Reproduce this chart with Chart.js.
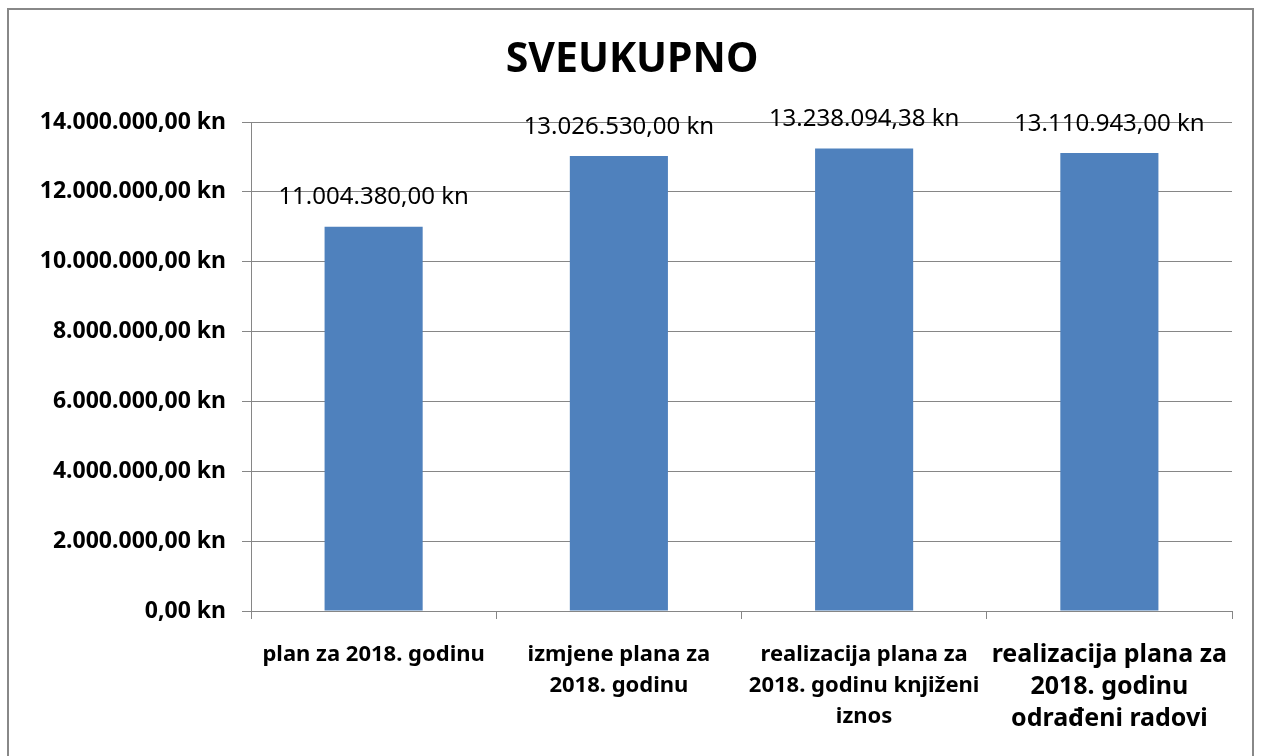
<!DOCTYPE html>
<html>
<head>
<meta charset="utf-8">
<script src="https://cdn.jsdelivr.net/npm/chart.js@4.4.0/dist/chart.umd.min.js"></script>
<style>
  html, body { margin: 0; padding: 0; background: #fff; }
  #wrap { position: relative; width: 1264px; height: 756px; overflow: hidden; }
  #frame {
    position: absolute; left: 7px; top: 8px; width: 1243px; height: 800px;
    border: 2px solid #888888; pointer-events: none;
  }
  canvas { position: absolute; left: 0; top: 0; }
</style>
</head>
<body>
<div id="wrap">
  <canvas id="chart" width="1264" height="756"></canvas>
  <div id="frame"></div>
</div>
<script>
var titleText = "SVEUKUPNO";
var categories = [
  ["plan za 2018. godinu"],
  ["izmjene plana za", "2018. godinu"],
  ["realizacija plana za", "2018. godinu knjiženi", "iznos"],
  ["realizacija plana za", "2018. godinu", "odrađeni radovi"]
];
var values = [11004380.00, 13026530.00, 13238094.38, 13110943.00];
var yMax = 14000000;
var yStep = 2000000;

var FONT = "'Noto Sans', sans-serif";

function formatKn(v) {
  var parts = v.toFixed(2).split(".");
  var intPart = parts[0].replace(/\B(?=(\d{3})+(?!\d))/g, ".");
  return intPart + "," + parts[1] + " kn";
}

// title centred on the whole canvas (the chart area is shifted left)
var centredTitle = {
  id: "centredTitle",
  afterDraw: function (chart) {
    var ctx = chart.ctx;
    ctx.save();
    ctx.font = "bold 41px " + FONT;
    ctx.fillStyle = "#000";
    ctx.textAlign = "center";
    ctx.textBaseline = "middle";
    ctx.fillText(titleText, chart.width / 2, 60);
    ctx.restore();
  }
};

// draws the value above every bar
var barLabels = {
  id: "barLabels",
  afterDatasetsDraw: function (chart) {
    var ctx = chart.ctx;
    var meta = chart.getDatasetMeta(0);
    ctx.save();
    ctx.font = "normal 24px " + FONT;
    ctx.fillStyle = "#000";
    ctx.textAlign = "center";
    ctx.textBaseline = "middle";
    meta.data.forEach(function (bar, i) {
      ctx.fillText(formatKn(values[i]), bar.x, bar.y - 29);
    });
    ctx.restore();
  }
};

new Chart(document.getElementById("chart"), {
  type: "bar",
  data: {
    labels: categories,
    datasets: [{
      label: titleText,
      data: values,
      backgroundColor: "#4F81BD",
      borderWidth: 0,
      categoryPercentage: 1,
      barPercentage: 0.4
    }]
  },
  options: {
    responsive: false,
    animation: false,
    layout: { padding: { left: 0, right: 32, top: 122, bottom: 0 } },
    plugins: {
      legend: { display: false },
      tooltip: { enabled: false },
      title: { display: false }
    },
    scales: {
      x: {
        afterFit: function (scale) { scale.height = 145; },
        grid: {
          offset: true,
          drawOnChartArea: false,
          drawTicks: true,
          tickLength: 8,
          color: "#868686"
        },
        border: { color: "#868686", width: 1 },
        ticks: {
          color: "#000",
          padding: 20,
          maxRotation: 0,
          autoSkip: false,
          font: function (ctx) {
            if (ctx.index === 3) {
              return { family: FONT, size: 25, weight: "bold", lineHeight: 1.28 };
            }
            return { family: FONT, size: 22, weight: "bold", lineHeight: 1.41 };
          }
        }
      },
      y: {
        min: 0,
        max: yMax,
        afterFit: function (scale) { scale.width = 251; },
        grid: { color: "#868686", tickLength: 9 },
        border: { color: "#868686", width: 1 },
        ticks: {
          stepSize: yStep,
          color: "#000",
          padding: 16,
          font: { family: FONT, size: 23, weight: "bold" },
          callback: function (v) { return formatKn(v); }
        }
      }
    }
  },
  plugins: [barLabels, centredTitle]
});
</script>
</body>
</html>
